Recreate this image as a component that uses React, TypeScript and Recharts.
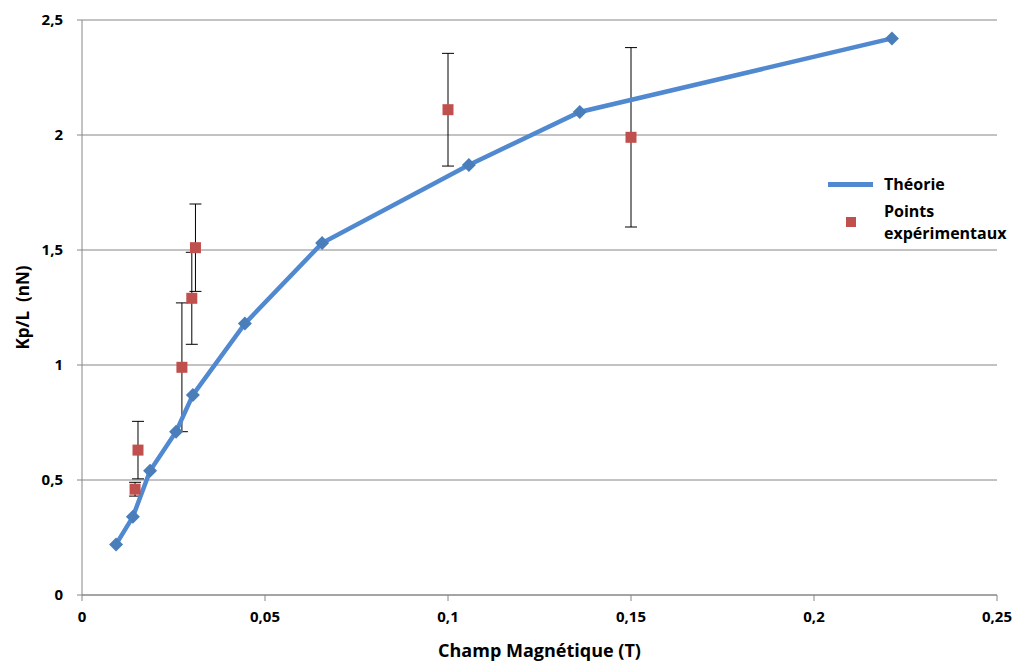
import { ComposedChart, Scatter, XAxis, YAxis, CartesianGrid, ErrorBar } from 'recharts';

const theoryB = [0.0093, 0.0139, 0.0186, 0.0257, 0.0303, 0.0445, 0.0656, 0.1057, 0.136, 0.2213];
const theoryK = [0.22, 0.34, 0.54, 0.71, 0.87, 1.18, 1.53, 1.87, 2.1, 2.42];

const expB = [0.0145, 0.0153, 0.0273, 0.0300, 0.0310, 0.1, 0.15];
const expK = [0.46, 0.63, 0.99, 1.29, 1.51, 2.11, 1.99];
const expErr = [0.03, 0.125, 0.28, 0.2, 0.19, 0.245, 0.39];

const xTicks = [0, 0.05, 0.1, 0.15, 0.2, 0.25];
const yTicks = [0, 0.5, 1, 1.5, 2, 2.5];

const theory = theoryB.map((b, i) => ({ b, k: theoryK[i] }));
const experimental = expB.map((b, i) => ({ b, k: expK[i], err: expErr[i] }));

const FONT = '"Open Sans", sans-serif';
const fmt = (v: number) => String(v).replace('.', ',');

function Diamond(props: any) {
  const { cx, cy } = props;
  const r = 7;
  return <path d={`M${cx},${cy - r}L${cx + r},${cy}L${cx},${cy + r}L${cx - r},${cy}Z`} fill="#4a7ebb" />;
}

function Square(props: any) {
  const { cx, cy } = props;
  return <rect x={cx - 5.5} y={cy - 5.5} width={11} height={11} fill="#c0504d" />;
}

function LegendBox() {
  const txt = { fontFamily: FONT, fontWeight: 700, fontSize: 16, color: '#000', lineHeight: '22px' };
  return (
    <div style={{ position: 'absolute', left: 828, top: 172, width: 190 }}>
      <div style={{ display: 'flex', alignItems: 'center', height: 24 }}>
        <div style={{ width: 45, height: 5, background: '#5089d0', marginRight: 11 }} />
        <span style={txt}>Théorie</span>
      </div>
      <div style={{ display: 'flex', alignItems: 'center', marginTop: 4 }}>
        <div style={{ width: 45, display: 'flex', justifyContent: 'center', marginRight: 11 }}>
          <div style={{ width: 10, height: 10, background: '#c0504d' }} />
        </div>
        <span style={txt}>Points<br />expérimentaux</span>
      </div>
    </div>
  );
}

function YLabel(props: any) {
  const { viewBox } = props;
  const cy = viewBox.y + viewBox.height / 2;
  return (
    <text x={22} y={cy} transform={`rotate(-90 22 ${cy})`} textAnchor="middle" dominantBaseline="central"
      fontFamily={FONT} fontWeight={700} fontSize={17} fill="#000">{'Kp/L\u00a0 (nN)'}</text>
  );
}

export default function App() {
  const tick = { fill: '#000', fontFamily: FONT, fontWeight: 700, fontSize: 15 };
  return (
    <div style={{ position: 'absolute', left: 0, top: 0, width: 1015, height: 663, background: '#fff' }}>
      <ComposedChart width={1015} height={663} margin={{ top: 20, right: 18, left: 0, bottom: 0 }}>
        <CartesianGrid vertical={false} stroke="#868686" />
        <XAxis
          type="number"
          dataKey="b"
          domain={[0, 0.25]}
          ticks={xTicks}
          tickFormatter={fmt}
          height={68}
          stroke="#868686"
          tickSize={6}
          tick={tick}
          tickMargin={10}
          label={{ value: 'Champ Magnétique (T)', position: 'insideBottom', offset: 6, fill: '#000', fontFamily: FONT, fontWeight: 700, fontSize: 18 }}
        />
        <YAxis
          type="number"
          dataKey="k"
          domain={[0, 2.5]}
          ticks={yTicks}
          tickFormatter={fmt}
          width={82}
          stroke="#868686"
          tickSize={5}
          tick={tick}
          tickMargin={14}
          label={<YLabel />}
        />
        <Scatter
          name="Théorie"
          data={theory}
          line={{ stroke: '#5089d0', strokeWidth: 4.5 }}
          lineType="joint"
          shape={<Diamond />}
          isAnimationActive={false}
        />
        <Scatter
          name="Points expérimentaux"
          data={experimental}
          shape={<Square />}
          isAnimationActive={false}
        >
          <ErrorBar dataKey="err" direction="y" width={6} stroke="#000" strokeWidth={1} />
        </Scatter>
      </ComposedChart>
      <LegendBox />
    </div>
  );
}
